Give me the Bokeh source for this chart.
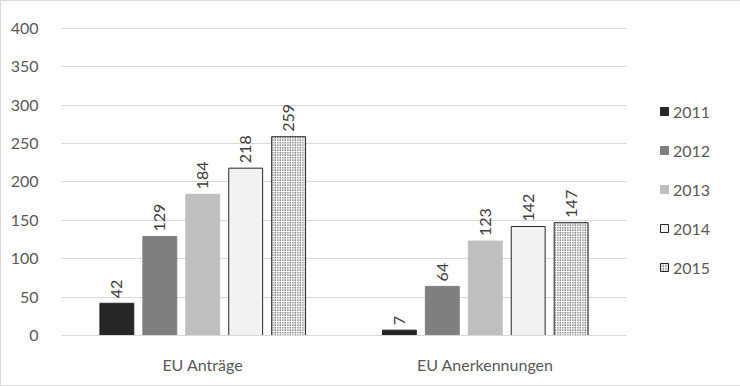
import math
from bokeh.plotting import figure
from bokeh.models import ColumnDataSource, FactorRange, Range1d, Legend, LegendItem, SingleIntervalTicker
from bokeh.transform import dodge
from bokeh.core.properties import value
from bokeh.embed import file_html
from bokeh.resources import INLINE

categories = ["EU Anträge", "EU Anerkennungen"]
years = ["2011", "2012", "2013", "2014", "2015"]
v2011 = [42, 7]
v2012 = [129, 64]
v2013 = [184, 123]
v2014 = [218, 142]
v2015 = [259, 147]
series = [v2011, v2012, v2013, v2014, v2015]

FONT = "Lato"
FS = "16px"
fills = ["#262626", "#7f7f7f", "#bfbfbf", "#f2f2f2", "#ffffff"]
lines = ["#262626", "#7f7f7f", "#bfbfbf", "#262626", "#262626"]
offsets = [-0.304, -0.152, 0.0, 0.152, 0.304]

p = figure(x_range=FactorRange(factors=categories, range_padding=0),
           y_range=Range1d(0, 402.6),
           frame_width=565, frame_height=309,
           min_border_left=60, min_border_right=113,
           min_border_top=25, min_border_bottom=50,
           output_backend="svg", toolbar_location=None)
p.outline_line_color = None
p.background_fill_color = "white"
p.border_fill_color = "white"
p.styles = {"border": "1px solid #d9d9d9", "box-sizing": "border-box"}

items = []
for i, (yr, vals) in enumerate(zip(years, series)):
    src = ColumnDataSource(dict(cat=categories, val=vals, lab=[str(v) for v in vals]))
    kw = dict(fill_color=fills[i], line_color=lines[i], line_width=1)
    if yr == "2015":
        kw.update(hatch_pattern="dot", hatch_color="#000000", hatch_scale=2.5, hatch_weight=1)
    r = p.vbar(x=dodge("cat", offsets[i], range=p.x_range), top="val", width=0.12,
               bottom=0, source=src, **kw)
    items.append(LegendItem(label=yr, renderers=[r]))
    p.text(x=dodge("cat", offsets[i], range=p.x_range), y="val", text="lab", source=src,
           angle=math.pi / 2, text_align="left", text_baseline="middle",
           y_offset=-5, text_font=value(FONT), text_font_size=FS, text_color="#404040")

legend = Legend(items=items, location=(33, 58), orientation="vertical")
legend.padding = 0
legend.margin = 0
legend.border_line_color = None
legend.background_fill_alpha = 0
legend.glyph_width = 10
legend.glyph_height = 10
legend.label_height = 20
legend.spacing = 19
legend.label_standoff = 4
legend.label_text_font = FONT
legend.label_text_font_size = FS
legend.label_text_color = "#595959"
p.add_layout(legend, "right")

p.xgrid.grid_line_color = None
p.ygrid.grid_line_color = "#d9d9d9"
p.ygrid.grid_line_width = 1

p.yaxis.ticker = SingleIntervalTicker(interval=50)
p.yaxis.axis_line_color = None
p.yaxis.major_tick_line_color = None
p.yaxis.minor_tick_line_color = None
p.yaxis.major_label_standoff = 17
p.yaxis.major_label_text_font = FONT
p.yaxis.major_label_text_font_size = FS
p.yaxis.major_label_text_color = "#595959"

p.xaxis.axis_line_color = "#d9d9d9"
p.xaxis.major_tick_line_color = None
p.xaxis.minor_tick_line_color = None
p.xaxis.major_label_standoff = 13
p.xaxis.major_label_text_font = FONT
p.xaxis.major_label_text_font_size = FS
p.xaxis.major_label_text_color = "#595959"

open("out.html", "w").write(file_html(p, INLINE))
